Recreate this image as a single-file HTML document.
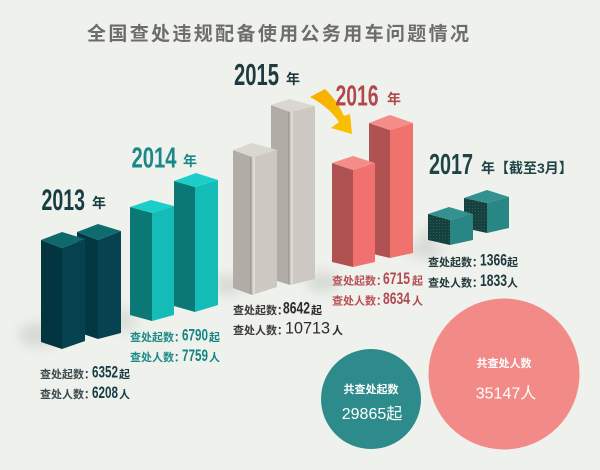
<!DOCTYPE html>
<html><head><meta charset="utf-8"><style>
html,body{margin:0;padding:0;background:#eff1ec;}
svg{display:block;}
text{font-family:"Liberation Sans","Noto Sans CJK SC",sans-serif;}
.cj{font-family:"Liberation Sans","Noto Sans CJK SC",sans-serif;font-weight:bold;}
</style></head><body>
<svg width="600" height="470" viewBox="0 0 600 470" xmlns="http://www.w3.org/2000/svg">
<defs>
<filter id="bl" x="-50%" y="-50%" width="200%" height="200%"><feGaussianBlur stdDeviation="6"/></filter>
<pattern id="dots" width="3" height="3" patternUnits="userSpaceOnUse"><rect width="3" height="3" fill="#15403e"/><rect x="1" y="1" width="1" height="1" fill="#25605d"/></pattern>
<linearGradient id="ar" x1="0" y1="0" x2="1" y2="1"><stop offset="0" stop-color="#f6ad00"/><stop offset="1" stop-color="#fbc200"/></linearGradient>
</defs>
<rect width="600" height="470" fill="#eff1ec"/>

<text x="87" y="40" font-size="19" fill="#6d6d6d" class="cj" textLength="382" lengthAdjust="spacing">全国查处违规配备使用公务用车问题情况</text>

<g filter="url(#bl)" opacity="0.45">
<ellipse cx="40" cy="335" rx="22" ry="12" fill="#b9bdb6"/>
<ellipse cx="125" cy="320" rx="12" ry="12" fill="#c4c8c1"/>
<ellipse cx="228" cy="285" rx="14" ry="10" fill="#b9bdb6"/>
<ellipse cx="322" cy="282" rx="16" ry="10" fill="#b9bdb6"/>
<ellipse cx="425" cy="250" rx="18" ry="8" fill="#b9bdb6"/>
<ellipse cx="428" cy="236" rx="8" ry="8" fill="#b9bdb6"/>
</g>

<g>
<polygon points="77,232 98,240 98,339 77,332" fill="#033843"/>
<polygon points="98,240 121,231 121,333 98,339" fill="#06424f"/>
<polygon points="77,232 98,224 121,231 98,240" fill="#0e6b6e"/>
<polygon points="41,240 62,248 62,349 41,342" fill="#023540"/>
<polygon points="62,248 85,239 85,341 62,349" fill="#05414e"/>
<polygon points="41,240 62,232 85,239 62,248" fill="#0d696c"/>
</g>
<g>
<polygon points="174,181 195,187 195,312 174,306" fill="#0b7875"/>
<polygon points="195,187 218,180 218,305 195,312" fill="#13bcb7"/>
<polygon points="174,181 196,173 218,180 195,187" fill="#1bcfc8"/>
<polygon points="130,207 152,213 152,321 130,315" fill="#0b7875"/>
<polygon points="152,213 174,206 174,315 152,321" fill="#13bcb7"/>
<polygon points="130,207 151,200 174,206 152,213" fill="#1bcfc8"/>
</g>
<g>
<polygon points="271,105 290,112 290,285 271,279" fill="#b1aca5"/>
<polygon points="290,112 315,106 315,279 290,285" fill="#cdc9c2"/>
<rect x="291" y="112" width="2" height="172" fill="#dedbd5"/>
<rect x="288" y="111" width="1" height="173" fill="#a29d96"/>
<polygon points="271,105 289,99 315,106 290,112" fill="#dad7d1"/>
<polygon points="233,150 252,157 252,295 233,288" fill="#b1aca5"/>
<polygon points="252,157 277,150 277,287 252,295" fill="#cdc9c2"/>
<rect x="253" y="157" width="2" height="137" fill="#dedbd5"/>
<rect x="250" y="156" width="1" height="138" fill="#a29d96"/>
<polygon points="233,150 252,143 277,150 252,157" fill="#dad7d1"/>
</g>
<g>
<polygon points="369,123 390,130 390,258 369,253" fill="#b05252"/>
<polygon points="390,130 413,123 413,253 390,258" fill="#f0716d"/>
<polygon points="369,123 390,115 413,123 390,130" fill="#f48c89"/>
<polygon points="332,163 353,170 353,267 332,262" fill="#b05252"/>
<polygon points="353,170 375,163 375,262 353,267" fill="#f0716d"/>
<polygon points="332,163 353,156 375,163 353,170" fill="#f48c89"/>
</g>
<g>
<polygon points="464,198 487,203 487,233 464,228" fill="url(#dots)"/>
<polygon points="487,203 509,197 509,228 487,233" fill="#288784"/>
<polygon points="464,198 487,190 509,197 487,203" fill="#33918f"/>
<polygon points="428,214 450,220 450,245 428,240" fill="url(#dots)"/>
<polygon points="450,220 473,214 473,240 450,245" fill="#288784"/>
<polygon points="428,214 449,207 473,214 450,220" fill="#33918f"/>
</g>

<path d="M310,97 L325,89 Q337,100 344,116 L350,114 L352,134 L331,128 L339,122 Q329,107 310,97 Z" fill="url(#ar)"/>

<text x="41.5" y="210" font-size="30" font-weight="bold" fill="#163c44" textLength="43.5" lengthAdjust="spacingAndGlyphs">2013</text>
<text x="92" y="208" font-size="14" class="cj" fill="#163c44">年</text>

<text x="131.5" y="167.5" font-size="29" font-weight="bold" fill="#1a8886" textLength="45" lengthAdjust="spacingAndGlyphs">2014</text>
<text x="183" y="166" font-size="14" class="cj" fill="#1a8886">年</text>

<text x="234" y="85" font-size="31" font-weight="bold" fill="#1f3b3d" textLength="45" lengthAdjust="spacingAndGlyphs">2015</text>
<text x="286" y="84" font-size="14" class="cj" fill="#1f3b3d">年</text>

<text x="335.5" y="105.5" font-size="29" font-weight="bold" fill="#b0484c" textLength="43" lengthAdjust="spacingAndGlyphs">2016</text>
<text x="387" y="104" font-size="14" class="cj" fill="#b0484c">年</text>

<text x="429" y="174" font-size="29" font-weight="bold" fill="#1e4446" textLength="44" lengthAdjust="spacingAndGlyphs">2017</text>
<text x="481" y="173" font-size="14" class="cj" fill="#1e4446">年【截至3月】</text>

<g>
<text x="40" y="378" font-size="11" class="cj" fill="#3b4a4d">查处起数：</text>
<text x="92" y="377.5" font-size="17" font-weight="bold" fill="#173c44" textLength="26" lengthAdjust="spacingAndGlyphs">6352</text>
<text x="119" y="378" font-size="11" class="cj" fill="#173c44">起</text>
<text x="40" y="398" font-size="11" class="cj" fill="#3b4a4d">查处人数：</text>
<text x="92" y="398" font-size="17" font-weight="bold" fill="#173c44" textLength="26" lengthAdjust="spacingAndGlyphs">6208</text>
<text x="119" y="398" font-size="11" class="cj" fill="#173c44">人</text>
</g>
<g>
<text x="130" y="341" font-size="11" class="cj" fill="#1d8a87">查处起数：</text>
<text x="182" y="340.5" font-size="17" font-weight="bold" fill="#168582" textLength="26" lengthAdjust="spacingAndGlyphs">6790</text>
<text x="209" y="341" font-size="11" class="cj" fill="#168582">起</text>
<text x="130" y="361" font-size="11" class="cj" fill="#1d8a87">查处人数：</text>
<text x="182" y="361" font-size="17" font-weight="bold" fill="#168582" textLength="26" lengthAdjust="spacingAndGlyphs">7759</text>
<text x="209" y="361" font-size="11" class="cj" fill="#168582">人</text>
</g>
<g>
<text x="233" y="314" font-size="11" class="cj" fill="#3a3a3a">查处起数：</text>
<text x="283" y="313.5" font-size="17" font-weight="bold" fill="#2b2b2b" textLength="27" lengthAdjust="spacingAndGlyphs">8642</text>
<text x="311" y="314" font-size="11" class="cj" fill="#2b2b2b">起</text>
<text x="233" y="334" font-size="11" class="cj" fill="#3a3a3a">查处人数：</text>
<text x="285" y="333.5" font-size="17" fill="#2b2b2b" textLength="45" lengthAdjust="spacingAndGlyphs">10713</text>
<text x="332" y="334" font-size="11" class="cj" fill="#2b2b2b">人</text>
</g>
<g>
<text x="332" y="284.5" font-size="11" class="cj" fill="#b85055">查处起数：</text>
<text x="383" y="284" font-size="17" font-weight="bold" fill="#b04c51" textLength="27" lengthAdjust="spacingAndGlyphs">6715</text>
<text x="412" y="284.5" font-size="11" class="cj" fill="#b04c51">起</text>
<text x="332" y="304.5" font-size="11" class="cj" fill="#b85055">查处人数：</text>
<text x="383" y="304" font-size="17" font-weight="bold" fill="#b04c51" textLength="27" lengthAdjust="spacingAndGlyphs">8634</text>
<text x="412" y="304.5" font-size="11" class="cj" fill="#b04c51">人</text>
</g>
<g>
<text x="428" y="266" font-size="11" class="cj" fill="#24383b">查处起数：</text>
<text x="480" y="265.5" font-size="17" font-weight="bold" fill="#1e3a3e" textLength="27" lengthAdjust="spacingAndGlyphs">1366</text>
<text x="507" y="266" font-size="11" class="cj" fill="#1e3a3e">起</text>
<text x="428" y="286.5" font-size="11" class="cj" fill="#24383b">查处人数：</text>
<text x="480" y="286" font-size="17" font-weight="bold" fill="#1e3a3e" textLength="27" lengthAdjust="spacingAndGlyphs">1833</text>
<text x="507" y="286.5" font-size="11" class="cj" fill="#1e3a3e">人</text>
</g>

<circle cx="504" cy="374" r="75.5" fill="#f28a88"/>
<text x="504" y="367" font-size="11" class="cj" fill="#ffffff" text-anchor="middle">共查处人数</text>
<text x="506" y="398.5" font-size="16" fill="#ffffff" text-anchor="middle">35147人</text>

<circle cx="371" cy="399" r="50" fill="#2e8b8c"/>
<text x="371" y="393" font-size="11" class="cj" fill="#ffffff" text-anchor="middle">共查处起数</text>
<text x="372" y="419" font-size="16" fill="#ffffff" text-anchor="middle">29865起</text>
</svg>
</body></html>
